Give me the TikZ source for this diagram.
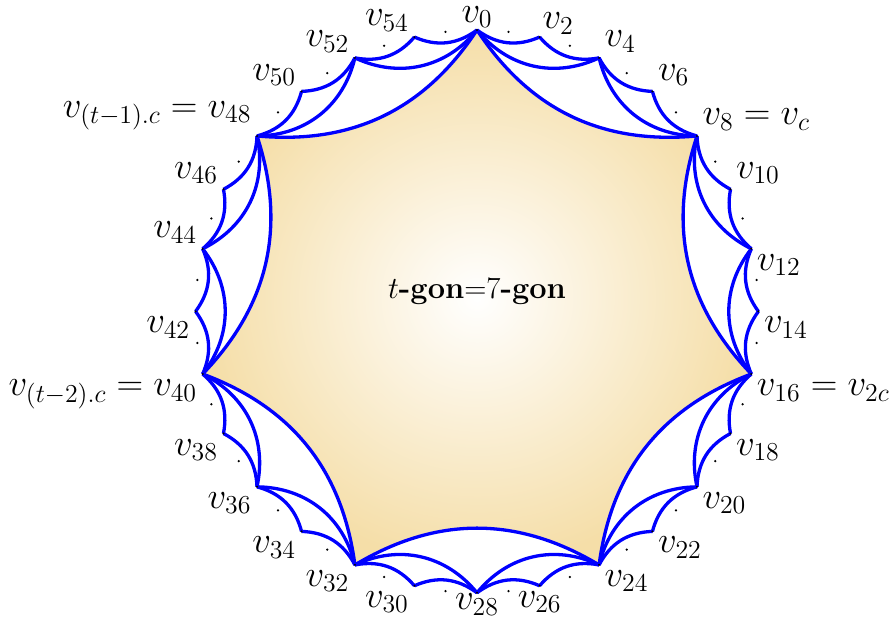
\RequirePackage{fix-cm}
\documentclass[tikz,border=0pt]{standalone}
\usepackage{tikz}
\usetikzlibrary{positioning}
\definecolor{gontan}{RGB}{245,222,168}
\definecolor{arcblue}{RGB}{0,0,255}

\begin{document}
\begin{tikzpicture}
          \tikzstyle{arcline} = [draw=arcblue, line width=0.066cm]
          \tikzstyle{lbl} = [font=\fontsize{21}{25}\selectfont, inner sep=3pt]
          \tikzstyle{oddpt} = [circle, fill=black, inner sep=0pt, minimum size=0.05cm]
          \tikzstyle{evenpt} = [circle, fill=black, inner sep=0pt, minimum size=0.045cm]

          \useasboundingbox (-9.54,-6.212) rectangle (8.3,6.228);
          \def\R{5.628}

          % all points v0 ... v55 on the circle
          \foreach \k in {0,...,55}
            \coordinate (v\k) at ({90-\k*45/7}:\R);

          % the t-gon
          \shade[inner color=white, outer color=gontan] (v0) to[bend right=31] (v8) to[bend right=31] (v16)
            to[bend right=31] (v24) to[bend right=31] (v32) to[bend right=31] (v40)
            to[bend right=31] (v48) to[bend right=31] (v0);

          \foreach \a in {0,8,...,48} {
            \pgfmathtruncatemacro\b{mod(\a+8,56)}
            \draw[arcline] (v\a) to[bend right=31] (v\b);
          }
          \foreach \a in {0,4,...,52} {
            \pgfmathtruncatemacro\b{mod(\a+4,56)}
            \draw[arcline] (v\a) to[bend right=38] (v\b);
          }
          \foreach \a in {0,2,...,54} {
            \pgfmathtruncatemacro\b{mod(\a+2,56)}
            \draw[arcline] (v\a) to[bend right=30] (v\b);
          }

          \foreach \k in {1,3,...,55}
            \node[oddpt] (d\k) at (v\k) {};
          \foreach \k in {0,2,...,54}
            \node[evenpt] (p\k) at (v\k) {};

          \node[font=\fontsize{17.5}{21}\selectfont] (title) at (0,0.408) {$t$\textbf{-gon}=7\textbf{-gon}};

          \foreach \i/\pos in {4/above right, 6/above right, 10/above right,
              12/below right, 14/below right, 18/below right, 20/below right, 22/below right, 24/below right,
              26/below, 30/below left, 32/below left, 34/below left, 36/below left, 38/below left,
              42/below left, 44/above left, 46/above left, 50/above left, 52/above left, 54/above left}
            \node[lbl, \pos] (l\i) at (v\i) {$v_{\i}$};
          % the ones at the top and bottom edge sit closer
          \node[lbl, above, inner sep=1pt] (l0) at (v0) {$v_{0}$};
          \node[lbl, above right, inner sep=1.5pt] (l2) at (v2) {$v_{2}$};
          \node[lbl, below, inner sep=0.5pt] (l28) at (v28) {$v_{28}$};
          \node[lbl, above right] (l8) at (v8) {$v_8 = v_c$};
          \node[lbl, below right] (l16) at (v16) {$v_{16} = v_{2c}$};
          \node[lbl, below left] (l40) at (v40) {$v_{(t-2).c} = v_{40}$};
          \node[lbl, above left] (l48) at (v48) {$v_{(t-1).c} = v_{48}$};
        \end{tikzpicture}
\end{document}
